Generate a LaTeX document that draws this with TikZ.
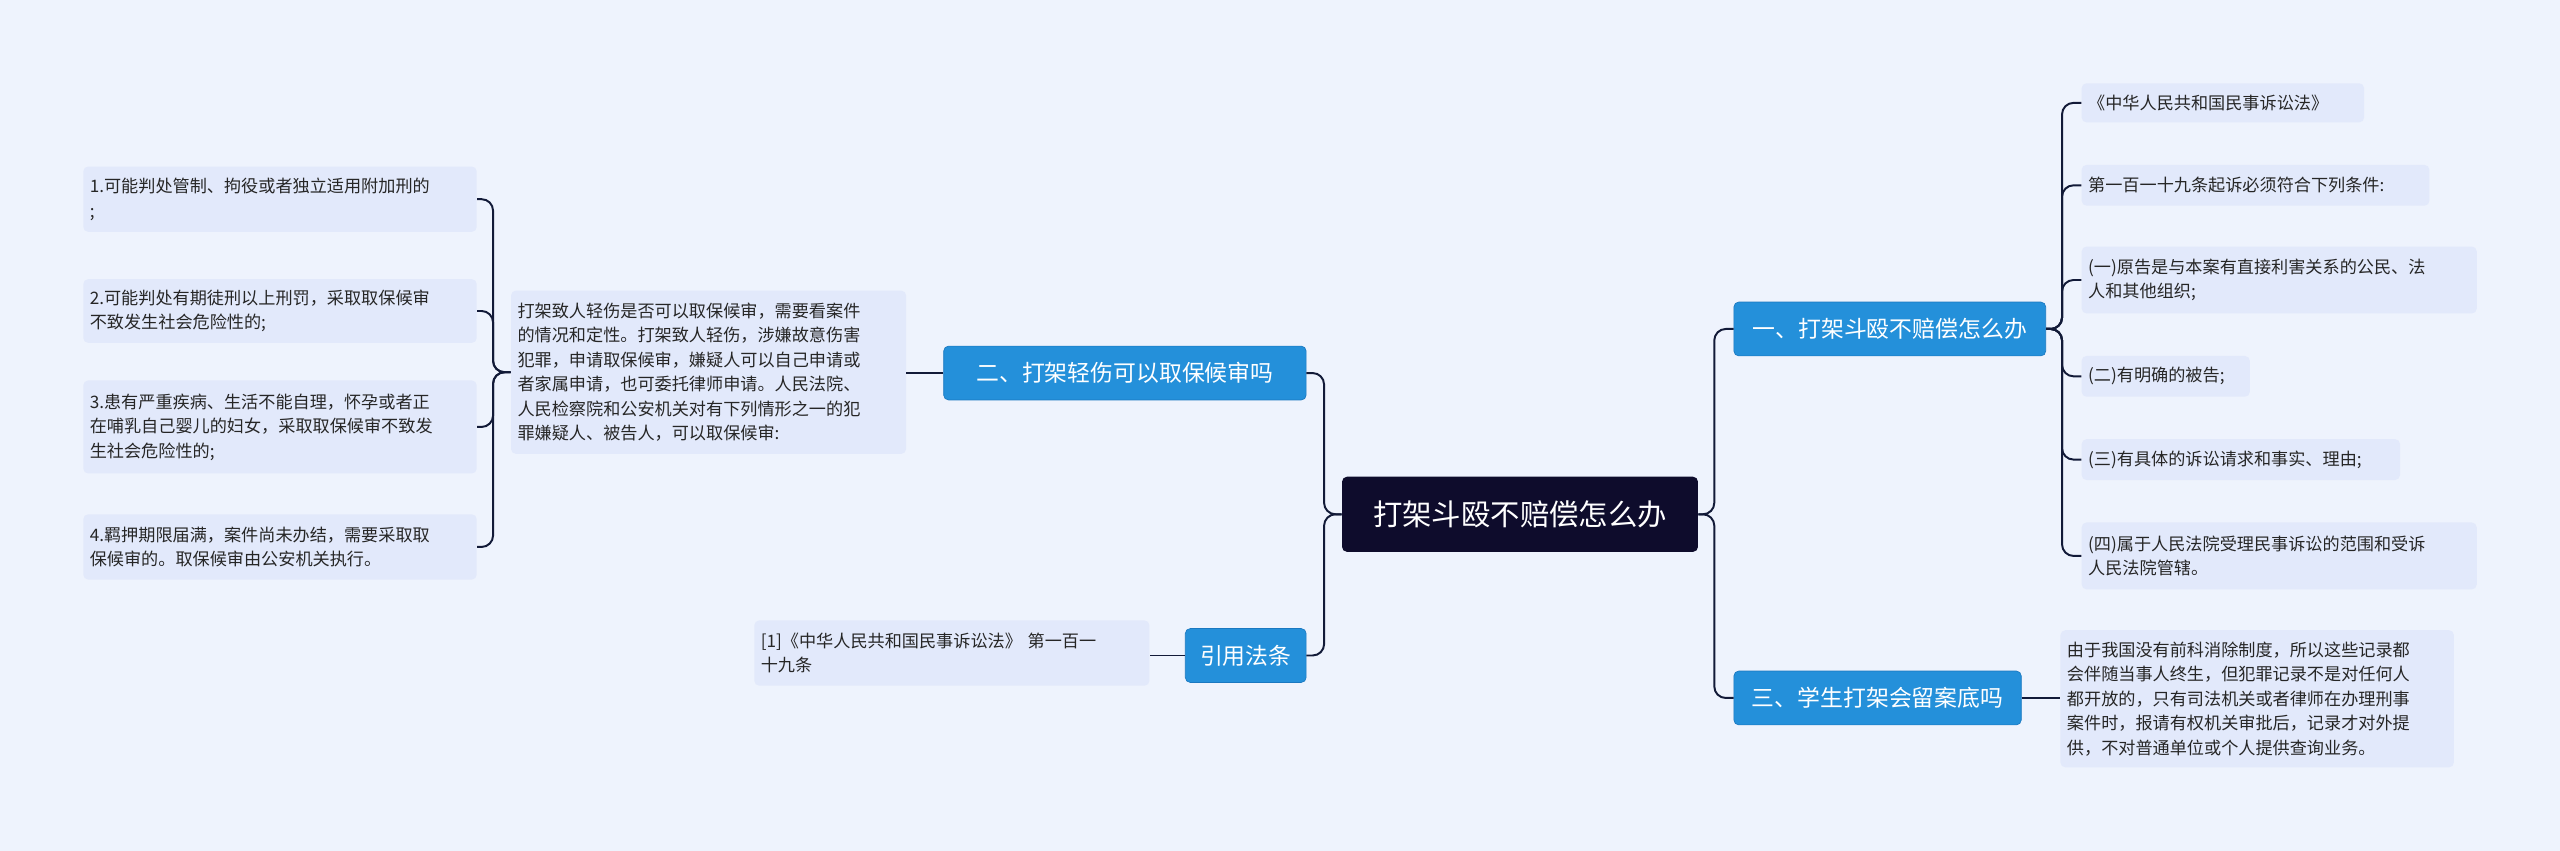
\documentclass[tikz,border=0pt]{standalone}
\usepackage{fontspec}
\setmainfont{Noto Sans CJK SC}
\begin{document}
\begin{tikzpicture}[x=1pt,y=-1pt,
  leaf/.style={fill=leafc, rounded corners=3pt, inner sep=0pt, align=left, font=\fontsize{10.5}{15}\selectfont, text=black!85},
  br/.style={fill=brc, draw=brd, rounded corners=3pt, inner sep=0pt, text=white, font=\fontsize{14}{16}\selectfont},
  con/.style={draw=linec, line width=1.2pt, rounded corners=7pt}]
\definecolor{bg}{HTML}{EEF3FD}
\definecolor{leafc}{HTML}{E2E9FB}
\definecolor{brc}{HTML}{2490DA}
\definecolor{brd}{HTML}{1A78C0}
\definecolor{rootc}{HTML}{0E0C2C}
\definecolor{linec}{HTML}{121A38}
\fill[bg] (0,0) rectangle (1568,521);
\useasboundingbox (0,0) rectangle (1568,521);
% root and branches
\node[fill=rootc, rounded corners=3pt, text=white, font=\fontsize{18}{20}\selectfont, minimum width=218, minimum height=46, inner sep=0pt] (root) at (931,315) {打架斗殴不赔偿怎么办};
\node[br, minimum width=191, minimum height=33] (b1) at (1157.5,201.5) {一、打架斗殴不赔偿怎么办};
\node[br, minimum width=176, minimum height=33] (b3) at (1150,427.5) {三、学生打架会留案底吗};
\node[br, minimum width=222, minimum height=33] (b2) at (689,228.5) {二、打架轻伤可以取保候审吗};
\node[br, minimum width=74, minimum height=33] (b4) at (763,401.5) {引用法条};
% right leaves
\node[leaf, minimum width=173, minimum height=24, text width=165] (a) at (1361.5,63) {《中华人民共和国民事诉讼法》};
\node[leaf, minimum width=213, minimum height=25, text width=205] (b) at (1381.5,113.5) {第一百一十九条起诉必须符合下列条件:};
\node[leaf, minimum width=242, minimum height=41, text width=234] (c) at (1396,171.5) {(一)原告是与本案有直接利害关系的公民、法\\人和其他组织;};
\node[leaf, minimum width=103, minimum height=25, text width=95] (d) at (1326.5,230.5) {(二)有明确的被告;};
\node[leaf, minimum width=195, minimum height=25, text width=187] (e) at (1372.5,281.5) {(三)有具体的诉讼请求和事实、理由;};
\node[leaf, minimum width=242, minimum height=41, text width=234] (f) at (1396,340.5) {(四)属于人民法院受理民事诉讼的范围和受诉\\人民法院管辖。};
\node[leaf, minimum width=241, minimum height=84, text width=233] (g) at (1382.5,428) {由于我国没有前科消除制度，所以这些记录都\\会伴随当事人终生，但犯罪记录不是对任何人\\都开放的，只有司法机关或者律师在办理刑事\\案件时，报请有权机关审批后，记录才对外提\\供，不对普通单位或个人提供查询业务。};
% left leaves
\node[leaf, minimum width=242, minimum height=100, text width=234] (m) at (434,228) {打架致人轻伤是否可以取保候审，需要看案件\\的情况和定性。打架致人轻伤，涉嫌故意伤害\\犯罪，申请取保候审，嫌疑人可以自己申请或\\者家属申请，也可委托律师申请。人民法院、\\人民检察院和公安机关对有下列情形之一的犯\\罪嫌疑人、被告人，可以取保候审:};
\node[leaf, minimum width=241, minimum height=40, text width=233] (l1) at (171.5,122) {1.可能判处管制、拘役或者独立适用附加刑的\\;};
\node[leaf, minimum width=241, minimum height=39, text width=233] (l2) at (171.5,190.5) {2.可能判处有期徒刑以上刑罚，采取取保候审\\不致发生社会危险性的;};
\node[leaf, minimum width=241, minimum height=57, text width=233] (l3) at (171.5,261.5) {3.患有严重疾病、生活不能自理，怀孕或者正\\在哺乳自己婴儿的妇女，采取取保候审不致发\\生社会危险性的;};
\node[leaf, minimum width=241, minimum height=40, text width=233] (l4) at (171.5,335) {4.羁押期限届满，案件尚未办结，需要采取取\\保候审的。取保候审由公安机关执行。};
\node[leaf, minimum width=242, minimum height=40, text width=234] (r) at (583,400) {[1]《中华人民共和国民事诉讼法》 第一百一\\十九条};
% connectors
\foreach \t in {b1,b3} \draw[con] (root.east) -- (1050,315) |- (\t.west);
\foreach \t in {b2,b4} \draw[con] (root.west) -- (811,315) |- (\t.east);
\foreach \t in {a,b,c,d,e,f} \draw[con] (b1.east) -- (1263,201.5) |- (\t.west);
\draw[con] (b3.east) -- (g.west|-b3.east);
\draw[con] (b2.west) -- (m.east|-b2.west);
\draw[con] (b4.west) -- (r.east|-b4.west);
\foreach \t in {l1,l2,l3,l4} \draw[con] (m.west) -- (302,228) |- (\t.east);
\end{tikzpicture}
\end{document}
